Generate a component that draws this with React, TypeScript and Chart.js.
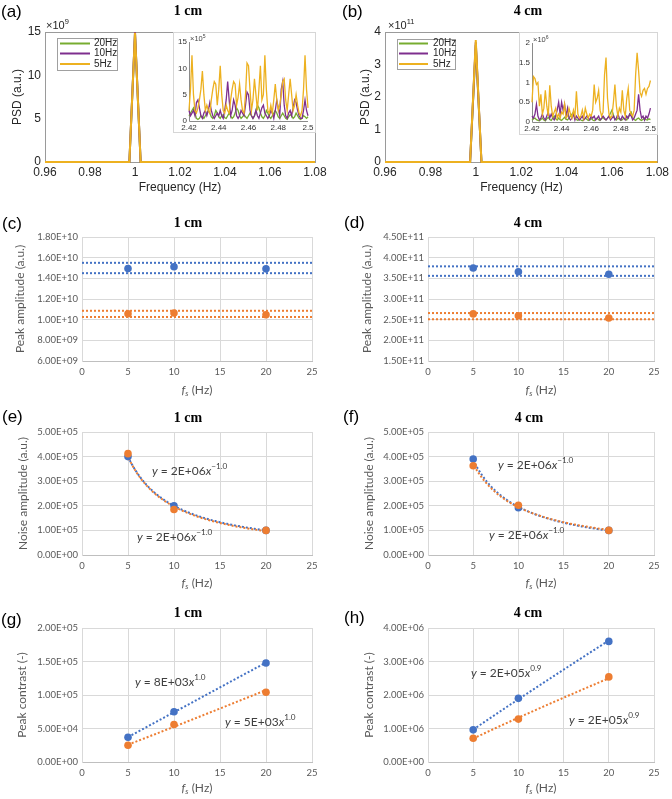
import React, { useEffect, useRef } from "react";
import { Chart, registerables } from "chart.js";

Chart.register(...registerables);

/* ================= DATA ================= */
// (a)/(b) main PSD plots (values in axis units: ×10^9 for (a), ×10^11 for (b))
const seriesLabels = ["20Hz", "10Hz", "5Hz"];
const mainFreq = [0.96, 0.9975, 1.0, 1.0025, 1.08];
const psdA_20Hz = [0, 0, 14.8, 0, 0];
const psdA_10Hz = [0, 0, 15.0, 0, 0];
const psdA_5Hz = [0, 0, 14.9, 0, 0];
const psdB_20Hz = [0, 0, 3.6, 0, 0];
const psdB_10Hz = [0, 0, 3.68, 0, 0];
const psdB_5Hz = [0, 0, 3.75, 0, 0];
const mainXTicks = [0.96, 0.98, 1, 1.02, 1.04, 1.06, 1.08];
const mainYTicksA = [0, 5, 10, 15];
const mainYTicksB = [0, 1, 2, 3, 4];
const expA = "9";
const expB = "11";

// insets: frequency grid 2.420 ... 2.500 (step 0.001)
const insetStart = 2.42;
const insetStep = 0.001;
const insetXTicks = [2.42, 2.44, 2.46, 2.48, 2.5];
const insetYTicksA = [0, 5, 10, 15];
const insetYTicksB = [0, 0.5, 1, 1.5, 2];
const insetExpA = "5";
const insetExpB = "6";
// inset (a), ×10^5
const insetA_5Hz = [
  2, 6, 12.5, 5, 2, 1.5, 2.5, 4, 6, 9.5,
  5, 2, 3, 2, 1.5, 4, 6, 7.5, 7, 3,
  6, 10.5, 5, 2, 1.5, 3, 2, 1.5, 4, 6,
  7.5, 7, 3, 4.5, 7, 4, 2, 1.5, 5, 11,
  10.5, 6, 2, 4, 8, 5, 2, 6, 10.5, 4,
  5, 12.5, 6, 2, 1.5, 3, 1.5, 4, 7, 4,
  2, 3, 5, 7.5, 8, 4, 2, 5, 8, 5,
  2, 3, 5, 3, 1.5, 1, 2, 6, 12.5, 6,
  2.5,
];
const insetA_10Hz = [
  2, 1, 1.5, 2, 1, 3.5, 4, 2.5, 1, 0.5,
  1.5, 2, 1, 2, 3.5, 2, 1, 0.5, 1, 1.5,
  1, 2, 1, 0.5, 2, 4, 7.5, 4, 1, 2,
  4, 3, 1, 0.5, 1, 2, 1.5, 1, 3, 5.5,
  5, 2, 1, 0.5, 1, 2, 1, 0.5, 1.5, 2.5,
  3, 1.5, 1, 0.5, 1, 2, 1.5, 0.5, 2, 4,
  2.5, 1, 6, 7.5, 3, 1, 0.5, 1.5, 2, 1,
  2.5, 4, 3.5, 2, 1, 0.5, 0.5, 2, 4, 2,
  1,
];
const insetA_20Hz = [
  1, 1.5, 2, 2.5, 1.5, 0.5, 0.3, 0.5, 1, 0.8,
  0.5, 1, 1.5, 2, 1.5, 0.8, 0.5, 1, 2, 1.5,
  0.8, 0.5, 1, 1.2, 0.6, 0.5, 1, 1.5, 1, 0.5,
  0.8, 1.5, 2.5, 2, 1, 0.5, 0.8, 1.2, 0.8, 0.5,
  1, 1.5, 1, 0.5, 1, 2, 3, 2.5, 1.5, 0.8,
  0.5, 1, 2, 1.5, 0.8, 0.5, 1, 1.5, 2, 1.5,
  0.8, 0.5, 1, 1.5, 1, 0.5, 0.3, 0.8, 1.2, 1,
  0.5, 0.8, 1.5, 1, 0.5, 0.3, 0.5, 1, 0.8, 0.5,
  0.8,
];
// inset (b), ×10^6
const insetB_5Hz = [
  0.5, 1.15, 1.1, 0.95, 1.0, 0.4, 0.7, 0.2, 0.35, 0.8,
  0.4, 0.15, 0.93, 0.4, 0.15, 0.25, 0.35, 0.1, 0.2, 0.1,
  0.25, 0.2, 0.45, 0.1, 0.15, 0.35, 0.2, 0.1, 0.3, 0.15,
  0.78, 0.2, 0.1, 0.15, 0.3, 0.1, 0.35, 0.2, 0.1, 0.2,
  0.15, 0.3, 0.95, 0.5, 0.6, 0.8, 0.3, 0.15, 0.25, 1.2,
  1.63, 0.6, 0.2, 0.1, 0.15, 0.5, 0.95, 0.4, 0.15, 0.35,
  0.25, 0.8, 0.3, 0.15, 0.6, 0.85, 0.3, 0.2, 0.15, 0.3,
  1.2, 1.75, 1.3, 0.75, 0.65, 0.8, 0.85, 0.7, 0.85, 0.9,
  1.05,
];
const insetB_10Hz = [
  0.15, 0.1, 0.2, 0.45, 0.15, 0.05, 0.1, 0.2, 0.1, 0.05,
  0.15, 0.25, 0.1, 0.2, 0.1, 0.05, 0.15, 0.3, 0.5, 0.2,
  0.5, 0.3, 0.45, 0.15, 0.35, 0.1, 0.05, 0.1, 0.2, 0.05,
  0.15, 0.1, 0.05, 0.1, 0.15, 0.05, 0.1, 0.15, 0.1, 0.05,
  0.15, 0.1, 0.15, 0.05, 0.1, 0.15, 0.05, 0.1, 0.15, 0.1,
  0.05, 0.1, 0.15, 0.05, 0.1, 0.15, 0.05, 0.1, 0.2, 0.1,
  0.05, 0.15, 0.1, 0.05, 0.15, 0.1, 0.2, 0.15, 0.05, 0.1,
  0.2, 0.3, 0.7, 0.3, 0.1, 0.15, 0.05, 0.15, 0.1, 0.2,
  0.35,
];
const insetB_20Hz = [
  0.05, 0.08, 0.1, 0.06, 0.04, 0.03, 0.06, 0.1, 0.05, 0.03,
  0.08, 0.12, 0.06, 0.04, 0.1, 0.15, 0.08, 0.05, 0.1, 0.06,
  0.04, 0.08, 0.12, 0.07, 0.05, 0.1, 0.15, 0.2, 0.25, 0.12,
  0.06, 0.04, 0.08, 0.05, 0.03, 0.06, 0.1, 0.07, 0.04, 0.06,
  0.09, 0.05, 0.03, 0.07, 0.1, 0.06, 0.04, 0.08, 0.12, 0.07,
  0.05, 0.1, 0.15, 0.22, 0.3, 0.18, 0.08, 0.05, 0.1, 0.07,
  0.04, 0.06, 0.1, 0.08, 0.05, 0.12, 0.2, 0.25, 0.12, 0.06,
  0.04, 0.08, 0.1, 0.06, 0.04, 0.07, 0.1, 0.06, 0.05, 0.08,
  0.06,
];

// (c)-(h) Excel panels
const fsHz = [5, 10, 20];
const excelXTicks = [0, 5, 10, 15, 20, 25];
const peakC_1 = [1.495e10, 1.512e10, 1.492e10];
const peakC_2 = [1.057e10, 1.064e10, 1.048e10];
const bandC_1 = [1.55e10, 1.45e10];
const bandC_2 = [1.086e10, 1.026e10];
const peakD_1 = [3.75e11, 3.66e11, 3.6e11];
const peakD_2 = [2.64e11, 2.595e11, 2.54e11];
const bandD_1 = [3.79e11, 3.56e11];
const bandD_2 = [2.66e11, 2.51e11];
const noiseE_1 = [4.0e5, 2.0e5, 1.0e5];
const noiseE_2 = [4.12e5, 1.85e5, 1.0e5];
const noiseF_1 = [3.9e5, 1.92e5, 1.0e5];
const noiseF_2 = [3.63e5, 2.02e5, 1.0e5];
const contrastG_1 = [3.7e4, 7.5e4, 1.477e5];
const contrastG_2 = [2.5e4, 5.6e4, 1.04e5];
const contrastH_1 = [0.96e6, 1.9e6, 3.6e6];
const contrastH_2 = [0.71e6, 1.28e6, 2.54e6];
const yTicksC = [6e9, 8e9, 1e10, 1.2e10, 1.4e10, 1.6e10, 1.8e10];
const yTicksD = [1.5e11, 2e11, 2.5e11, 3e11, 3.5e11, 4e11, 4.5e11];
const yTicksEF = [0, 1e5, 2e5, 3e5, 4e5, 5e5];
const yTicksG = [0, 5e4, 1e5, 1.5e5, 2e5];
const yTicksH = [0, 1e6, 2e6, 3e6, 4e6];
const eqE = [["2E+06", "\u22121.0"], ["2E+06", "\u22121.0"]];
const eqF = [["2E+06", "\u22121.0"], ["2E+06", "\u22121.0"]];
const eqG = [["8E+03", "1.0"], ["5E+03", "1.0"]];
const eqH = [["2E+05", "0.9"], ["2E+05", "0.9"]];

/* ================= STYLE ================= */
const F_M = "'Liberation Sans', Arial, sans-serif";
const F_X = "Lato, 'Open Sans', sans-serif";
const F_T = "'Liberation Serif', 'Times New Roman', serif";
const C_GREEN = "#77AC30";
const C_PURPLE = "#7E2F8E";
const C_YELLOW = "#EDB120";
const C_BLUE = "#4472C4";
const C_ORANGE = "#ED7D31";

/* ================= HELPERS ================= */
function drawRich(ctx: any, segs: any[], x: number, y: number, size: number, family: string, color: string, align: string, rot: number, bold: boolean) {
  ctx.save();
  ctx.translate(x, y);
  if (rot) ctx.rotate(rot);
  ctx.textBaseline = "middle";
  ctx.textAlign = "left";
  ctx.fillStyle = color;
  const parts = segs.map((s: any) => {
    const sz = s.sup || s.sub ? size * 0.68 : size;
    const font = `${s.it ? "italic " : ""}${bold ? "bold " : ""}${sz}px ${family}`;
    ctx.font = font;
    const w = ctx.measureText(s.t).width;
    const dy = s.sup ? -size * 0.36 : s.sub ? size * 0.3 : 0;
    return { t: s.t, font, w, dy };
  });
  const total = parts.reduce((a: number, p: any) => a + p.w, 0);
  let cx = align === "center" ? -total / 2 : align === "right" ? -total : 0;
  for (const p of parts) {
    ctx.font = p.font;
    ctx.fillText(p.t, cx, p.dy);
    cx += p.w;
  }
  ctx.restore();
}

function txt(x: number, y: number, segs: any, size: number, family: string, o: any = {}) {
  return { k: "text", x, y, segs: typeof segs === "string" ? [{ t: segs }] : segs, size, family, color: "#000", align: "left", rot: 0, bold: false, ...o };
}

function makeDecor(items: any[], ox: number, oy: number) {
  const run = (chart: any, layer: string) => {
    const ctx = chart.ctx;
    const ca = chart.chartArea;
    for (const it of items) {
      if ((it.layer || "top") !== layer) continue;
      if (it.k === "text") {
        drawRich(ctx, it.segs, it.x - ox, it.y - oy, it.size, it.family, it.color, it.align, it.rot, it.bold);
      } else if (it.k === "bg") {
        ctx.save();
        ctx.fillStyle = "#fff";
        ctx.fillRect(0, 0, chart.width, chart.height);
        if (it.stroke) {
          ctx.strokeStyle = it.stroke;
          ctx.lineWidth = 1;
          ctx.strokeRect(0.5, 0.5, chart.width - 1, chart.height - 1);
        }
        ctx.restore();
      } else if (it.k === "box") {
        ctx.save();
        ctx.strokeStyle = it.color;
        ctx.lineWidth = 1;
        ctx.strokeRect(Math.round(ca.left) + 0.5, Math.round(ca.top) + 0.5, Math.round(ca.right - ca.left), Math.round(ca.bottom - ca.top));
        ctx.restore();
      } else if (it.k === "laxes") {
        ctx.save();
        ctx.strokeStyle = it.color;
        ctx.lineWidth = 1;
        ctx.beginPath();
        ctx.moveTo(Math.round(ca.left) + 0.5, ca.top);
        ctx.lineTo(Math.round(ca.left) + 0.5, Math.round(ca.bottom) + 0.5);
        ctx.lineTo(ca.right, Math.round(ca.bottom) + 0.5);
        ctx.stroke();
        ctx.restore();
      } else if (it.k === "legend") {
        ctx.save();
        ctx.fillStyle = "#fff";
        ctx.fillRect(it.x - ox, it.y - oy, it.w, it.h);
        ctx.strokeStyle = "#a0a0a0";
        ctx.lineWidth = 1;
        ctx.strokeRect(it.x - ox + 0.5, it.y - oy + 0.5, it.w, it.h);
        chart.data.datasets.forEach((ds: any, i: number) => {
          const ry = it.rows[i] - oy;
          ctx.strokeStyle = ds.borderColor;
          ctx.lineWidth = 2;
          ctx.beginPath();
          ctx.moveTo(it.lx1 - ox, ry);
          ctx.lineTo(it.lx2 - ox, ry);
          ctx.stroke();
          drawRich(ctx, [{ t: ds.label }], it.tx - ox, ry, it.size, F_M, "#262626", "left", 0, false);
        });
        ctx.restore();
      }
    }
  };
  return {
    id: "decor",
    beforeDraw(chart: any) { run(chart, "bg"); },
    beforeDatasetsDraw(chart: any) { run(chart, "under"); },
    afterDraw(chart: any) { run(chart, "top"); },
  };
}

function fmtNum(v: number) {
  return String(Math.round(v * 1000) / 1000);
}

function fmtE(v: number) {
  if (v === 0) return "0.00E+00";
  const e = Math.floor(Math.log10(Math.abs(v)) + 1e-9);
  const m = v / Math.pow(10, e);
  return m.toFixed(2) + "E" + (e < 0 ? "-" : "+") + String(Math.abs(e)).padStart(2, "0");
}

function powerFit(xs: number[], ys: number[]) {
  const n = xs.length;
  const lx = xs.map(Math.log);
  const ly = ys.map(Math.log);
  const mx = lx.reduce((a, b) => a + b, 0) / n;
  const my = ly.reduce((a, b) => a + b, 0) / n;
  let sxy = 0, sxx = 0;
  for (let i = 0; i < n; i++) {
    sxy += (lx[i] - mx) * (ly[i] - my);
    sxx += (lx[i] - mx) * (lx[i] - mx);
  }
  const b = sxy / sxx;
  const a = Math.exp(my - b * mx);
  return (x: number) => a * Math.pow(x, b);
}

function trendPoints(xs: number[], ys: number[]) {
  const f = powerFit(xs, ys);
  const pts: any[] = [];
  const x0 = xs[0], x1 = xs[xs.length - 1];
  const n = 60;
  for (let i = 0; i <= n; i++) {
    const x = x0 + ((x1 - x0) * i) / n;
    pts.push({ x, y: f(x) });
  }
  return pts;
}

function bandLine(v: number) {
  return [{ x: excelXTicks[0], y: v }, { x: excelXTicks[excelXTicks.length - 1], y: v }];
}

function fixedTicks(list: number[]) {
  return (s: any) => { s.ticks = list.map((v) => ({ value: v })); };
}

/* ================= MATLAB PANELS ================= */
function matlabMain(p: any) {
  return {
    ox: p.ox, oy: p.oy, w: p.w, h: p.h,
    make: () => {
      const colors = [C_GREEN, C_PURPLE, C_YELLOW];
      const datasets = seriesLabels.map((lab, i) => ({
        label: lab,
        data: mainFreq.map((x, j) => ({ x, y: p.series[i][j] })),
        showLine: true,
        borderColor: colors[i],
        backgroundColor: colors[i],
        borderWidth: 2,
        pointRadius: 0,
        pointHoverRadius: 0,
        order: 2 - i,
        clip: 4,
      }));
      const a = p.area;
      const cx = (a.l + a.r) / 2;
      const cy = (a.t + a.b) / 2;
      const items = [
        { k: "box", color: "#9a9a9a", layer: "under" },
        txt(p.label[1], p.label[2], p.label[0], 17, F_M),
        txt(p.title[1], p.title[2], p.title[0], 14, F_T, { bold: true, align: "center" }),
        txt(p.exp[1], p.exp[2], [{ t: "\u00d710" }, { t: p.exp[0], sup: true }], 11, F_M, { color: "#262626" }),
        txt(p.ylabX, cy, "PSD (a.u.)", 12, F_M, { color: "#262626", align: "center", rot: -Math.PI / 2 }),
        txt(cx, p.xlabY, "Frequency (Hz)", 12, F_M, { color: "#262626", align: "center" }),
        { k: "legend", ...p.legend, size: 10 },
      ];
      return {
        type: "scatter",
        data: { datasets },
        options: {
          responsive: false,
          animation: false,
          devicePixelRatio: 1,
          events: [],
          layout: { padding: { top: a.t - p.oy, right: p.ox + p.w - a.r, left: 0, bottom: 0 } },
          plugins: { legend: { display: false }, tooltip: { enabled: false } },
          scales: {
            x: {
              type: "linear", min: mainXTicks[0], max: mainXTicks[mainXTicks.length - 1],
              afterBuildTicks: fixedTicks(mainXTicks),
              afterFit: (s: any) => { s.height = p.oy + p.h - a.b; },
              grid: { display: false, drawTicks: false }, border: { display: false },
              ticks: { font: { family: F_M, size: 12 }, color: "#262626", padding: 3, maxRotation: 0, autoSkip: false, callback: (v: any) => fmtNum(v) },
            },
            y: {
              type: "linear", min: p.yTicks[0], max: p.yTicks[p.yTicks.length - 1],
              afterBuildTicks: fixedTicks(p.yTicks),
              afterFit: (s: any) => { s.width = a.l - p.ox; },
              grid: { display: false, drawTicks: false }, border: { display: false },
              ticks: { font: { family: F_M, size: 12 }, color: "#262626", padding: 4, autoSkip: false, callback: (v: any) => fmtNum(v) },
            },
          },
        },
        plugins: [makeDecor(items, p.ox, p.oy)],
      };
    },
  };
}

function matlabInset(p: any) {
  return {
    ox: p.ox, oy: p.oy, w: p.w, h: p.h,
    make: () => {
      const colors = [C_GREEN, C_PURPLE, C_YELLOW];
      const datasets = seriesLabels.map((lab, i) => ({
        label: lab,
        data: p.series[i].map((v: number, j: number) => ({ x: insetStart + j * insetStep, y: v })),
        showLine: true,
        borderColor: colors[i],
        borderWidth: 1.3,
        pointRadius: 0,
        pointHoverRadius: 0,
        order: 2 - i,
        clip: 2,
      }));
      const a = p.area;
      const items = [
        { k: "bg", stroke: "#d6d6d6", layer: "bg" },
        { k: "laxes", color: "#8a8a8a", layer: "under" },
        txt(p.exp[1], p.exp[2], [{ t: "\u00d710" }, { t: p.exp[0], sup: true }], 7.5, F_M, { color: "#444" }),
      ];
      return {
        type: "scatter",
        data: { datasets },
        options: {
          responsive: false,
          animation: false,
          devicePixelRatio: 1,
          events: [],
          layout: { padding: { top: a.t - p.oy, right: p.ox + p.w - a.r, left: 0, bottom: 0 } },
          plugins: { legend: { display: false }, tooltip: { enabled: false } },
          scales: {
            x: {
              type: "linear", min: insetXTicks[0], max: insetXTicks[insetXTicks.length - 1],
              afterBuildTicks: fixedTicks(insetXTicks),
              afterFit: (s: any) => { s.height = p.oy + p.h - a.b; },
              grid: { display: false, drawTicks: false }, border: { display: false },
              ticks: { font: { family: F_M, size: 8 }, color: "#333", padding: 2, maxRotation: 0, autoSkip: false, callback: (v: any) => fmtNum(v) },
            },
            y: {
              type: "linear", min: p.yTicks[0], max: p.yTicks[p.yTicks.length - 1],
              afterBuildTicks: fixedTicks(p.yTicks),
              afterFit: (s: any) => { s.width = a.l - p.ox; },
              grid: { display: false, drawTicks: false }, border: { display: false },
              ticks: { font: { family: F_M, size: 8 }, color: "#333", padding: 2, autoSkip: false, callback: (v: any) => fmtNum(v) },
            },
          },
        },
        plugins: [makeDecor(items, p.ox, p.oy)],
      };
    },
  };
}

/* ================= EXCEL PANELS ================= */
function eqSegs(e: string[]) {
  return [{ t: "y", it: true }, { t: " = " + e[0] }, { t: "x", it: true }, { t: e[1], sup: true }];
}

function excelPanel(p: any) {
  return {
    ox: p.ox, oy: p.oy, w: p.w, h: p.h,
    make: () => {
      const datasets: any[] = [];
      p.lines.forEach((ln: any, i: number) => {
        datasets.push({
          data: ln.data, showLine: true, pointRadius: 0, pointHoverRadius: 0,
          borderColor: ln.color, borderWidth: 2, borderDash: [2, 2], borderDashOffset: ln.offset || 0,
          order: 20 - i, clip: 2,
        });
      });
      p.points.forEach((pt: any, i: number) => {
        datasets.push({
          data: fsHz.map((x, j) => ({ x, y: pt.vals[j] })), showLine: false,
          pointRadius: 3.8, pointHoverRadius: 3.8, pointBorderWidth: 0,
          pointBackgroundColor: pt.color, backgroundColor: pt.color, borderColor: pt.color,
          order: 5 - i, clip: false,
        });
      });
      const a = p.area;
      const cx = (a.l + a.r) / 2;
      const cy = (a.t + a.b) / 2;
      const items: any[] = [
        txt(p.label[1], p.label[2], p.label[0], 17, F_M),
        txt(p.title[1], p.title[2], p.title[0], 14, F_T, { bold: true, align: "center" }),
        txt(p.ylabX, cy, p.ylab, 12, F_X, { color: "#595959", align: "center", rot: -Math.PI / 2 }),
        txt(cx, p.xlabY, [{ t: "f", it: true }, { t: "s", it: true, sub: true }, { t: " (Hz)" }], 12, F_X, { color: "#595959", align: "center" }),
      ];
      (p.notes || []).forEach((n: any) => items.push(txt(n.x, n.y, eqSegs(n.eq), 12, F_X, { color: "#404040" })));
      return {
        type: "scatter",
        data: { datasets },
        options: {
          responsive: false,
          animation: false,
          devicePixelRatio: 1,
          events: [],
          layout: { padding: { top: a.t - p.oy, right: p.ox + p.w - a.r, left: 0, bottom: 0 } },
          plugins: { legend: { display: false }, tooltip: { enabled: false } },
          scales: {
            x: {
              type: "linear", min: excelXTicks[0], max: excelXTicks[excelXTicks.length - 1],
              afterBuildTicks: fixedTicks(excelXTicks),
              afterFit: (s: any) => { s.height = p.oy + p.h - a.b; },
              grid: { color: "#d9d9d9", drawTicks: false },
              border: { color: "#bfbfbf" },
              ticks: { font: { family: F_X, size: 9.5 }, color: "#595959", padding: 5, maxRotation: 0, autoSkip: false, callback: (v: any) => String(v) },
            },
            y: {
              type: "linear", min: p.yTicks[0], max: p.yTicks[p.yTicks.length - 1],
              afterBuildTicks: fixedTicks(p.yTicks),
              afterFit: (s: any) => { s.width = a.l - p.ox; },
              grid: { color: "#d9d9d9", drawTicks: false },
              border: { color: "#d9d9d9" },
              ticks: { font: { family: F_X, size: 9.5 }, color: "#595959", padding: 4, autoSkip: false, callback: (v: any) => fmtE(v) },
            },
          },
        },
        plugins: [makeDecor(items, p.ox, p.oy)],
      };
    },
  };
}

/* ================= PANEL SPECS ================= */
const panels = [
  matlabMain({
    ox: 0, oy: 0, w: 336, h: 200,
    area: { l: 45, r: 315, t: 32, b: 162 },
    series: [psdA_20Hz, psdA_10Hz, psdA_5Hz], yTicks: mainYTicksA,
    label: ["(a)", 1, 12], title: ["1 cm", 188, 11], exp: [expA, 46, 26],
    ylabX: 18, xlabY: 188,
    legend: { x: 57, y: 38, w: 60, h: 32, rows: [43.5, 53.5, 64], lx1: 60, lx2: 90, tx: 94 },
  }),
  matlabMain({
    ox: 336, oy: 0, w: 336, h: 200,
    area: { l: 385, r: 658, t: 32, b: 162 },
    series: [psdB_20Hz, psdB_10Hz, psdB_5Hz], yTicks: mainYTicksB,
    label: ["(b)", 342, 12], title: ["4 cm", 528, 11], exp: [expB, 388, 26],
    ylabX: 366, xlabY: 188,
    legend: { x: 397, y: 39, w: 58, h: 30, rows: [43.5, 53.5, 64], lx1: 399, lx2: 428, tx: 433 },
  }),
  matlabInset({
    ox: 173, oy: 32, w: 143, h: 101,
    area: { l: 189, r: 308, t: 42, b: 121 },
    series: [insetA_20Hz, insetA_10Hz, insetA_5Hz], yTicks: insetYTicksA,
    exp: [insetExpA, 190, 39],
  }),
  matlabInset({
    ox: 519, oy: 32, w: 139, h: 103,
    area: { l: 532, r: 652, t: 43, b: 122 },
    series: [insetB_20Hz, insetB_10Hz, insetB_5Hz], yTicks: insetYTicksB,
    exp: [insetExpB, 533, 40],
  }),
  excelPanel({
    ox: 0, oy: 200, w: 336, h: 200,
    area: { l: 82, r: 312, t: 237, b: 361 }, yTicks: yTicksC,
    label: ["(c)", 2, 224], title: ["1 cm", 188, 223],
    ylab: "Peak amplitude (a.u.)", ylabX: 20, xlabY: 390,
    lines: [
      { data: bandLine(bandC_1[0]), color: C_BLUE }, { data: bandLine(bandC_1[1]), color: C_BLUE },
      { data: bandLine(bandC_2[0]), color: C_ORANGE }, { data: bandLine(bandC_2[1]), color: C_ORANGE },
    ],
    points: [{ vals: peakC_1, color: C_BLUE }, { vals: peakC_2, color: C_ORANGE }],
  }),
  excelPanel({
    ox: 336, oy: 200, w: 336, h: 200,
    area: { l: 428, r: 654, t: 237, b: 361 }, yTicks: yTicksD,
    label: ["(d)", 344, 223], title: ["4 cm", 528, 223],
    ylab: "Peak amplitude (a.u.)", ylabX: 367, xlabY: 390,
    lines: [
      { data: bandLine(bandD_1[0]), color: C_BLUE }, { data: bandLine(bandD_1[1]), color: C_BLUE },
      { data: bandLine(bandD_2[0]), color: C_ORANGE }, { data: bandLine(bandD_2[1]), color: C_ORANGE },
    ],
    points: [{ vals: peakD_1, color: C_BLUE }, { vals: peakD_2, color: C_ORANGE }],
  }),
  excelPanel({
    ox: 0, oy: 400, w: 336, h: 200,
    area: { l: 82, r: 312, t: 432, b: 555 }, yTicks: yTicksEF,
    label: ["(e)", 2, 417], title: ["1 cm", 188, 418],
    ylab: "Noise amplitude (a.u.)", ylabX: 23, xlabY: 583,
    lines: [
      { data: trendPoints(fsHz, noiseE_1), color: C_BLUE },
      { data: trendPoints(fsHz, noiseE_2), color: C_ORANGE, offset: 2 },
    ],
    points: [{ vals: noiseE_1, color: C_BLUE }, { vals: noiseE_2, color: C_ORANGE }],
    notes: [{ x: 152, y: 471, eq: eqE[0] }, { x: 137, y: 537, eq: eqE[1] }],
  }),
  excelPanel({
    ox: 336, oy: 400, w: 336, h: 200,
    area: { l: 428, r: 654, t: 432, b: 555 }, yTicks: yTicksEF,
    label: ["(f)", 343, 417], title: ["4 cm", 529, 418],
    ylab: "Noise amplitude (a.u.)", ylabX: 369, xlabY: 583,
    lines: [
      { data: trendPoints(fsHz, noiseF_1), color: C_BLUE },
      { data: trendPoints(fsHz, noiseF_2), color: C_ORANGE, offset: 2 },
    ],
    points: [{ vals: noiseF_1, color: C_BLUE }, { vals: noiseF_2, color: C_ORANGE }],
    notes: [{ x: 498, y: 465, eq: eqF[0] }, { x: 489, y: 535, eq: eqF[1] }],
  }),
  excelPanel({
    ox: 0, oy: 600, w: 336, h: 199,
    area: { l: 82, r: 312, t: 628, b: 762 }, yTicks: yTicksG,
    label: ["(g)", 1, 620], title: ["1 cm", 188, 613],
    ylab: "Peak contrast (-)", ylabX: 22, xlabY: 788,
    lines: [
      { data: trendPoints(fsHz, contrastG_1), color: C_BLUE },
      { data: trendPoints(fsHz, contrastG_2), color: C_ORANGE },
    ],
    points: [{ vals: contrastG_1, color: C_BLUE }, { vals: contrastG_2, color: C_ORANGE }],
    notes: [{ x: 135, y: 682, eq: eqG[0] }, { x: 225, y: 722, eq: eqG[1] }],
  }),
  excelPanel({
    ox: 336, oy: 600, w: 336, h: 199,
    area: { l: 428, r: 654, t: 628, b: 762 }, yTicks: yTicksH,
    label: ["(h)", 344, 618], title: ["4 cm", 528, 613],
    ylab: "Peak contrast (-)", ylabX: 369, xlabY: 788,
    lines: [
      { data: trendPoints(fsHz, contrastH_1), color: C_BLUE },
      { data: trendPoints(fsHz, contrastH_2), color: C_ORANGE },
    ],
    points: [{ vals: contrastH_1, color: C_BLUE }, { vals: contrastH_2, color: C_ORANGE }],
    notes: [{ x: 471, y: 673, eq: eqH[0] }, { x: 569, y: 720, eq: eqH[1] }],
  }),
];

/* ================= COMPONENTS ================= */
function Panel({ spec }: { spec: any }) {
  const ref = useRef<HTMLCanvasElement>(null);
  useEffect(() => {
    const chart = new Chart(ref.current as any, spec.make());
    return () => chart.destroy();
  }, [spec]);
  return (
    <canvas
      ref={ref}
      width={spec.w}
      height={spec.h}
      style={{ position: "absolute", left: spec.ox, top: spec.oy, width: spec.w, height: spec.h, display: "block" }}
    />
  );
}

export default function App() {
  return (
    <div style={{ position: "fixed", left: 0, top: 0, width: 672, height: 799, background: "#fff", overflow: "hidden" }}>
      {panels.map((s, i) => (
        <Panel key={i} spec={s} />
      ))}
    </div>
  );
}
